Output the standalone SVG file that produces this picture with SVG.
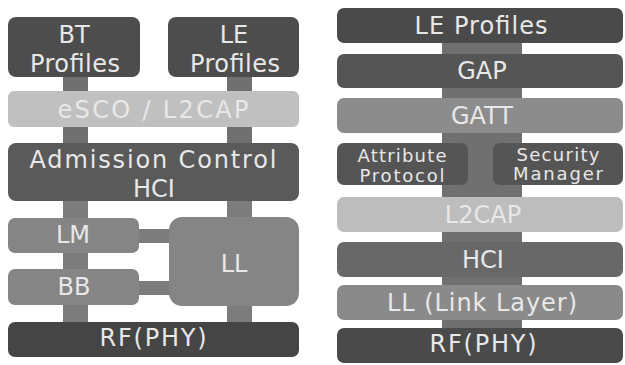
<svg xmlns="http://www.w3.org/2000/svg" width="625" height="365" viewBox="0 0 625 365">
<style>
text{font-family:"DejaVu Sans","Noto Sans",sans-serif;fill:#e8e8e8;text-anchor:middle;font-size:24px}
.sm{font-size:18px}
.c1{fill:#707070}
.c2{fill:#7c7c7c}
</style>
<rect width="625" height="365" fill="#ffffff"/>
<g id="connectors">
<rect class="c1" x="63" y="70" width="25" height="80"/>
<rect class="c1" x="227" y="70" width="25" height="80"/>
<rect class="c2" x="63" y="195" width="25" height="132"/>
<rect class="c2" x="227" y="195" width="25" height="132"/>
<rect class="c2" x="134" y="229" width="40" height="14"/>
<rect class="c2" x="134" y="281" width="40" height="14"/>
<rect class="c1" x="442" y="38" width="80" height="295"/>
</g>
<g id="bt-profiles"><rect x="8" y="17" width="132" height="60" rx="8" fill="#4d4d4d"/><text x="74" y="43">BT</text><text x="75" y="72" textLength="90">Profiles</text></g>
<g id="le-profiles-left"><rect x="168" y="17" width="131" height="60" rx="8" fill="#4d4d4d"/><text x="234" y="43">LE</text><text x="235" y="72" textLength="90">Profiles</text></g>
<g id="esco-l2cap"><rect x="8" y="91" width="291" height="36" rx="6" fill="#c0c0c0"/><text x="153" y="118" textLength="191">eSCO / L2CAP</text></g>
<g id="admission-hci"><rect x="8" y="143" width="291" height="58" rx="8" fill="#5a5a5a"/><text x="153" y="168" textLength="247">Admission Control</text><text x="154" y="197">HCI</text></g>
<g id="lm"><rect x="8" y="218" width="131" height="35" rx="7" fill="#858585"/><text x="73" y="243">LM</text></g>
<g id="bb"><rect x="8" y="269" width="131" height="36" rx="7" fill="#858585"/><text x="74" y="295">BB</text></g>
<g id="ll"><rect x="169" y="217" width="130" height="89" rx="13" fill="#858585"/><text x="234" y="272">LL</text></g>
<g id="rf-left"><rect x="8" y="322" width="291" height="35" rx="7" fill="#454545"/><text x="153" y="346" textLength="107">RF(PHY)</text></g>
<g id="le-profiles-right"><rect x="337" y="8" width="286" height="35" rx="7" fill="#4a4a4a"/><text x="481" y="34" textLength="133">LE Profiles</text></g>
<g id="gap"><rect x="337" y="54" width="286" height="34" rx="7" fill="#555555"/><text x="482" y="79">GAP</text></g>
<g id="gatt"><rect x="337" y="98" width="286" height="35" rx="7" fill="#8c8c8c"/><text x="482" y="124">GATT</text></g>
<g id="attribute-protocol"><rect x="337" y="143" width="131" height="42" rx="7" fill="#555555"/><text class="sm" x="402" y="162" textLength="89">Attribute</text><text class="sm" x="402" y="182" textLength="85">Protocol</text></g>
<g id="security-manager"><rect x="493" y="143" width="130" height="42" rx="7" fill="#555555"/><text class="sm" x="558" y="161" textLength="83">Security</text><text class="sm" x="558" y="180" textLength="90">Manager</text></g>
<g id="l2cap"><rect x="337" y="197" width="286" height="35" rx="7" fill="#bdbdbd"/><text x="483" y="223">L2CAP</text></g>
<g id="hci-right"><rect x="337" y="242" width="286" height="35" rx="7" fill="#686868"/><text x="483" y="268">HCI</text></g>
<g id="link-layer"><rect x="337" y="285" width="286" height="35" rx="7" fill="#8a8a8a"/><text x="482" y="311" textLength="190">LL (Link Layer)</text></g>
<g id="rf-right"><rect x="337" y="328" width="286" height="35" rx="7" fill="#4a4a4a"/><text x="483" y="352" textLength="107">RF(PHY)</text></g>
</svg>
